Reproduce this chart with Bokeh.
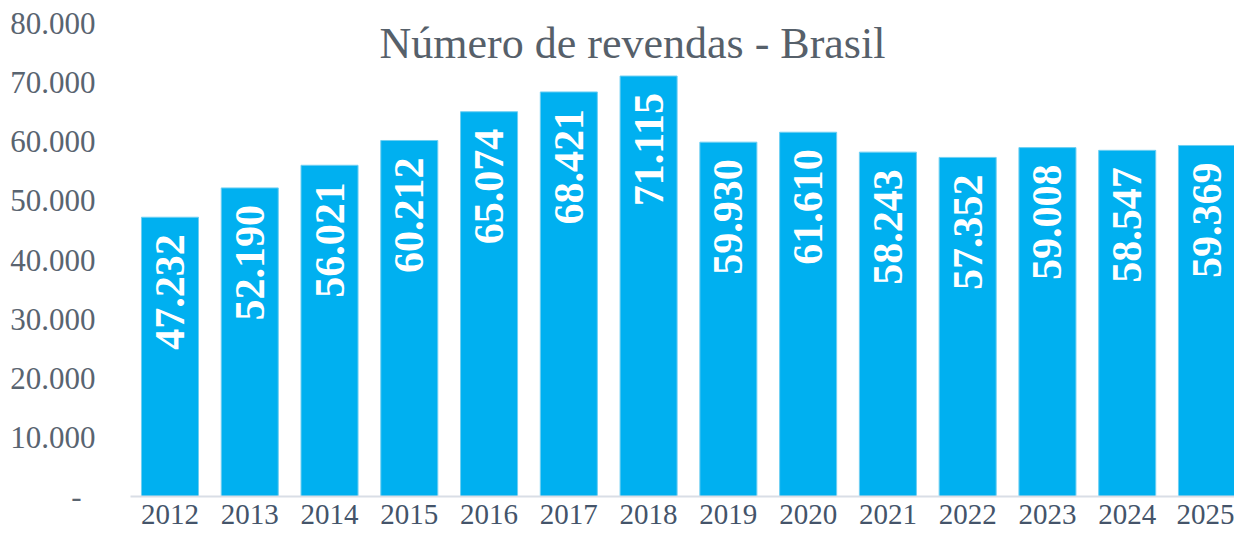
from bokeh.plotting import figure
from bokeh.models import ColumnDataSource, Range1d, FixedTicker, Label
from bokeh.core.properties import value
from bokeh.embed import file_html
from bokeh.resources import INLINE

# ---- data ----
years = [2012, 2013, 2014, 2015, 2016, 2017, 2018, 2019, 2020, 2021, 2022, 2023, 2024, 2025]
revendas = [47232, 52190, 56021, 60212, 65074, 68421, 71115, 59930, 61610, 58243, 57352, 59008, 58547, 59369]
y_ticks = [0, 10000, 20000, 30000, 40000, 50000, 60000, 70000, 80000]
y_tick_labels = ["-\u00a0\u2009", "10.000", "20.000", "30.000", "40.000", "50.000", "60.000", "70.000", "80.000"]
title_text = "Número de revendas - Brasil"

FONT = "Liberation Serif"
BAR_COLOR = "#00B0F0"

labels = [f"{v:,}".replace(",", ".") for v in revendas]
src = ColumnDataSource(dict(x=years, top=revendas, lab=labels))

W, H = 1234, 537
p = figure(width=W, height=H, output_backend="svg", toolbar_location=None,
           x_range=Range1d(2011.505, 2025.345), y_range=Range1d(0, 80000),
           min_border_left=130, min_border_right=0, min_border_top=23, min_border_bottom=41)
p.outline_line_color = None
p.xgrid.grid_line_color = None
p.ygrid.grid_line_color = None
p.background_fill_color = "white"
p.border_fill_color = "white"

p.vbar(x="x", top="top", bottom=0, width=0.715, source=src,
       fill_color=BAR_COLOR, line_color="#6fcff2", line_width=1)

p.text(x="x", y="top", text="lab", source=src, angle=1.5708,
       text_align="right", text_baseline="middle", y_offset=17,
       text_font=value(FONT), text_font_size="42px", text_font_style="bold",
       text_color="white")

# x axis
xa = p.xaxis[0]
xa.ticker = FixedTicker(ticks=years)
xa.major_label_overrides = {y: str(y) for y in years}
xa.axis_line_color = "#D9DEE6"
xa.axis_line_width = 2
xa.major_tick_line_color = None
xa.minor_tick_line_color = None
xa.major_tick_out = 0
xa.major_tick_in = 0
xa.major_label_standoff = 8
xa.major_label_text_font = FONT
xa.major_label_text_font_size = "29px"
xa.major_label_text_color = "#44546A"

# y axis
ya = p.yaxis[0]
ya.ticker = FixedTicker(ticks=y_ticks)
ya.major_label_overrides = dict(zip(y_ticks, y_tick_labels))
ya.axis_line_color = None
ya.major_tick_line_color = None
ya.minor_tick_line_color = None
ya.major_tick_out = 0
ya.major_tick_in = 0
ya.major_label_standoff = 35
ya.major_label_text_font = FONT
ya.major_label_text_font_size = "31px"
ya.major_label_text_color = "#596470"

# title
p.add_layout(Label(x=502, y=453, x_units="screen", y_units="screen", text=title_text,
                   text_align="center", text_baseline="alphabetic",
                   text_font=FONT, text_font_size="44px", text_color="#56606A"))

open("out.html", "w").write(file_html(p, INLINE))
